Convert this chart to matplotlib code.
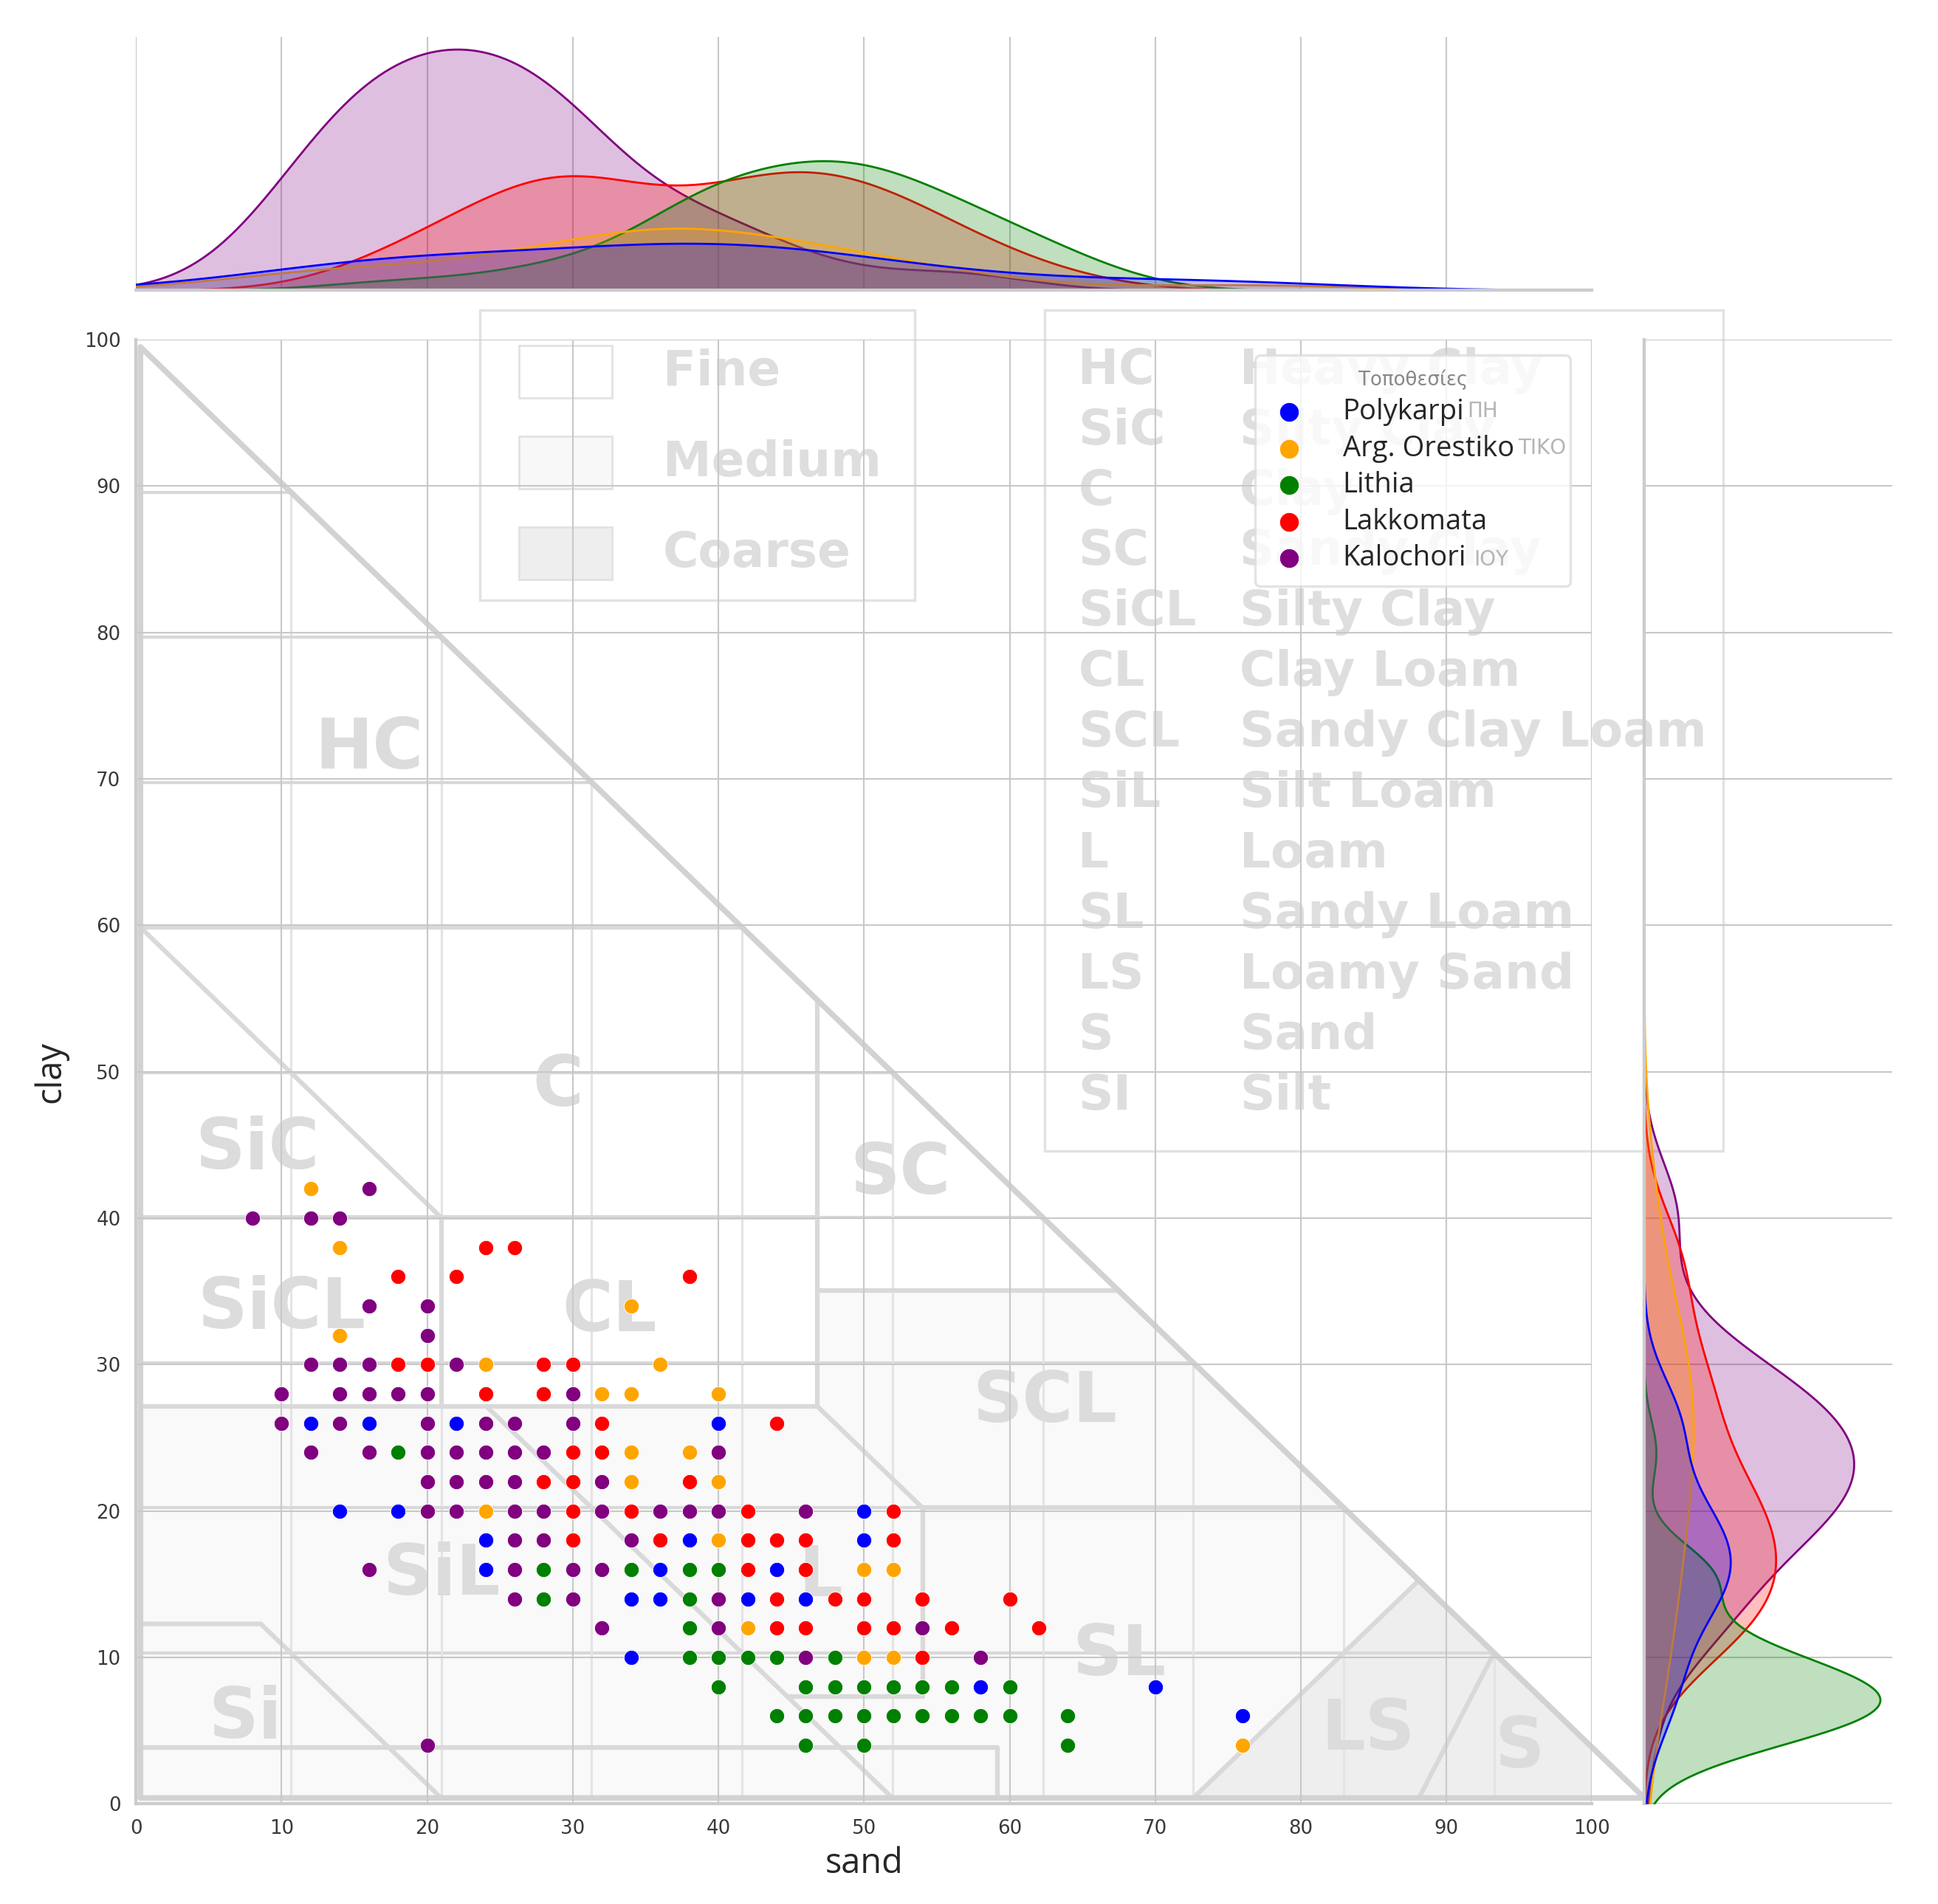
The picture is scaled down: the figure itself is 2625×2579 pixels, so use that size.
import numpy as np
import pandas as pd
import matplotlib
matplotlib.use("Agg")
import matplotlib.pyplot as plt
import seaborn as sns
from matplotlib.patches import Polygon, Rectangle

sns.set_theme(style="whitegrid")
plt.rcParams['font.family'] = ['DejaVu Sans']
plt.rcParams['grid.color'] = '#c8c8c8'
plt.rcParams['grid.linewidth'] = 0.6

# --- data (sand %, clay %) per location ---
locations = ["Polykarpi", "Arg. Orestiko", "Lithia", "Lakkomata", "Kalochori"]
colors = ["blue", "orange", "green", "red", "purple"]

polykarpi_sand = [12, 16, 22, 40, 14, 18, 50, 24, 38, 50, 24, 36, 44, 34, 36, 42, 46, 34, 58, 70, 76]
polykarpi_clay = [26, 26, 26, 26, 20, 20, 20, 18, 18, 18, 16, 16, 16, 14, 14, 14, 14, 10, 8, 8, 6]

orestiko_sand = [12, 14, 34, 14, 24, 36, 32, 34, 40, 34, 38, 34, 40, 24, 40, 50, 52, 42, 50, 52, 76]
orestiko_clay = [42, 38, 34, 32, 30, 30, 28, 28, 28, 24, 24, 22, 22, 20, 18, 16, 16, 12, 10, 10, 4]

lithia_sand = [18, 28, 34, 38, 40, 28, 38, 38, 38, 40, 42, 44, 48, 40, 46, 48, 50, 52, 54, 56, 60,
               44, 46, 48, 50, 52, 54, 56, 58, 60, 64, 46, 50, 64]
lithia_clay = [24, 16, 16, 16, 16, 14, 14, 12, 10, 10, 10, 10, 10, 8, 8, 8, 8, 8, 8, 8, 8,
               6, 6, 6, 6, 6, 6, 6, 6, 6, 6, 4, 4, 4]

lakkomata_sand = [24, 26, 18, 22, 38, 18, 20, 28, 30, 24, 28, 32, 44, 30, 32, 28, 30, 38, 30, 34, 42,
                  52, 30, 36, 42, 44, 46, 52, 42, 46, 44, 48, 50, 54, 60, 44, 46, 50, 52, 56, 62, 54]
lakkomata_clay = [38, 38, 36, 36, 36, 30, 30, 30, 30, 28, 28, 26, 26, 24, 24, 22, 22, 22, 20, 20, 20,
                  20, 18, 18, 18, 18, 18, 18, 16, 16, 14, 14, 14, 14, 14, 12, 12, 12, 12, 12, 12, 10]

kalochori_sand = [16, 8, 12, 14, 16, 20, 20, 12, 14, 16, 22, 10, 14, 16, 18, 20, 30,
                  10, 14, 20, 24, 26, 30, 12, 16, 20, 22, 24, 26, 28, 40,
                  20, 22, 24, 26, 32, 20, 22, 26, 28, 32, 36, 38, 40, 46,
                  26, 28, 34, 16, 26, 30, 32, 26, 30, 40, 32, 40, 54, 46, 58, 20]
kalochori_clay = [42, 40, 40, 40, 34, 34, 32, 30, 30, 30, 30, 28, 28, 28, 28, 28, 28,
                  26, 26, 26, 26, 26, 26, 24, 24, 24, 24, 24, 24, 24, 24,
                  22, 22, 22, 22, 22, 20, 20, 20, 20, 20, 20, 20, 20, 20,
                  18, 18, 18, 16, 16, 16, 16, 14, 14, 14, 12, 12, 12, 10, 10, 4]

all_sand = [polykarpi_sand, orestiko_sand, lithia_sand, lakkomata_sand, kalochori_sand]
all_clay = [polykarpi_clay, orestiko_clay, lithia_clay, lakkomata_clay, kalochori_clay]

hue_col = "Τοποθεσίες"
df = pd.concat([pd.DataFrame({"sand": s, "clay": c, hue_col: name})
                for s, c, name in zip(all_sand, all_clay, locations)], ignore_index=True)

# --- soil texture triangle background (USDA classes, sand/clay of the image) ---
class_lines = [
    [(0, 60), (40, 60)],
    [(0, 60), (20, 40)],
    [(0, 40), (45, 40)],
    [(45, 55), (45, 27)],
    [(45, 35), (65, 35)],
    [(0, 27), (45, 27)],
    [(20, 40), (20, 27)],
    [(45, 27), (52, 20)],
    [(52, 20), (80, 20)],
    [(52, 20), (52, 7), (43, 7)],
    [(23, 27), (50, 0)],
    [(0, 12), (8, 12), (20, 0)],
    [(70, 0), (85, 15)],
    [(85, 0), (90, 10)],
    [(0, 3.5), (57, 3.5), (57, 0)],
]
medium_zone = [(0, 0), (0, 27), (45, 27), (45, 35), (65, 35), (100, 0)]
coarse_zone = [(70, 0), (85, 15), (100, 0)]

class_labels = ["HC", "SiC", "C", "SC", "SiCL", "CL", "SCL", "SiL", "L", "SL", "LS", "S", "Si"]
label_sand = [16, 8.3, 29, 52.5, 10, 32.5, 62.4, 21, 47, 67.5, 84.6, 95, 7.5]
label_clay = [72, 44.7, 49, 43, 33.8, 33.6, 27.4, 15.6, 15.5, 10.1, 5, 3.8, 5.8]

texture_names = ["Fine", "Medium", "Coarse"]
texture_fill = ["white", "#f8f8f8", "#eeeeee"]

abbrev = ["HC", "SiC", "C", "SC", "SiCL", "CL", "SCL", "SiL", "L", "SL", "LS", "S", "SI"]
full_names = ["Heavy Clay", "Silty Clay", "Clay", "Sandy Clay", "Silty Clay", "Clay Loam",
              "Sandy Clay Loam", "Silt Loam", "Loam", "Sandy Loam", "Loamy Sand", "Sand", "Silt"]

# bits of the old Greek legend labels still showing
ghost_labels = ["ΠΗ", "ΤΙΚΟ", "ΙΟΥ"]


def img(pts):
    # the triangle picture is a little stretched against the axes
    p = np.asarray(pts, float)
    return np.column_stack([0.3 + 1.033 * p[:, 0], 0.4 + 0.991 * p[:, 1]])


fig = plt.figure(figsize=(10.5, 10.316), dpi=250)
ax = fig.add_axes([0.0702, 0.0526, 0.7513, 0.7690])
ax_top = fig.add_axes([0.0702, 0.8475, 0.7513, 0.133], sharex=ax)
ax_right = fig.add_axes([0.8482, 0.0526, 0.128, 0.7690], sharey=ax)
ax_top.set_facecolor('none')
ax_right.set_facecolor('none')
ax.set_axisbelow(True)

line_col = '#d9d9d9'
ax.add_patch(Polygon(img(medium_zone), closed=True, fc='#f9f9f9', ec='none', zorder=0.1))
ax.add_patch(Polygon(img(coarse_zone), closed=True, fc='#eeeeee', ec='none', zorder=0.15))

# the picture's own 10% grid, cut at the hypotenuse
for k in range(10, 100, 10):
    g = img([(k, 0), (k, 100 - k)])
    ax.plot(g[:, 0], g[:, 1], color='#e4e4e4', lw=0.9, zorder=0.3)
    g = img([(0, k), (100 - k, k)])
    ax.plot(g[:, 0], g[:, 1], color='#d8d8d8', lw=1.2, zorder=0.3)

for seg in class_lines:
    g = img(seg)
    ax.plot(g[:, 0], g[:, 1], color=line_col, lw=1.8, zorder=0.4, solid_capstyle='round')
tri = img([(0, 0), (0, 100), (100, 0), (0, 0)])
ax.plot(tri[:, 0], tri[:, 1], color='#d2d2d2', lw=2.2, zorder=0.4, clip_on=False)

for name, xs, ys in zip(class_labels, label_sand, label_clay):
    ax.text(xs, ys, name, fontsize=27, fontweight='bold', color='#dcdcdc',
            ha='center', va='center', zorder=0.5)

# texture key box
ax.add_patch(Rectangle((23.6, 82.2), 29.9, 19.8, fc='none', ec='#e2e2e2', lw=1.0,
                       clip_on=False, zorder=0.5))
for i, (name, fc) in enumerate(zip(texture_names, texture_fill)):
    yc = 97.8 - i * 6.2
    ax.add_patch(Rectangle((26.3, yc - 1.8), 6.4, 3.6, fc=fc, ec='#e2e2e2', lw=0.8,
                           clip_on=False, zorder=0.5))
    ax.text(36.2, yc, name, fontsize=19, fontweight='bold', color='#dedede',
            ha='left', va='center', clip_on=False, zorder=0.5)

# class names box
ax.add_patch(Rectangle((62.4, 44.6), 46.6, 57.4, fc='none', ec='#e2e2e2', lw=1.0,
                       clip_on=False, zorder=0.5))
for i, (a, n) in enumerate(zip(abbrev, full_names)):
    yc = 97.9 - i * 4.13
    ax.text(64.7, yc, a, fontsize=19, fontweight='bold', color='#dedede',
            ha='left', va='center', clip_on=False, zorder=0.5)
    ax.text(75.8, yc, n, fontsize=19, fontweight='bold', color='#dedede',
            ha='left', va='center', clip_on=False, zorder=0.5)

# scatter
for name, col in zip(locations, colors):
    sub = df[df[hue_col] == name]
    ax.scatter(sub["sand"], sub["clay"], s=34, color=col, edgecolor='white',
               linewidth=0.25, label=name, zorder=3)

# marginal densities
sns.kdeplot(data=df, x="sand", hue=hue_col, hue_order=locations, palette=colors,
            fill=True, common_norm=True, legend=False, linewidth=0.8, ax=ax_top)
sns.kdeplot(data=df, y="clay", hue=hue_col, hue_order=locations, palette=colors,
            fill=True, common_norm=True, legend=False, linewidth=0.8, ax=ax_right)

ax.set_xlim(0, 100)
ax.set_ylim(0, 100)
ax.set_xticks(np.arange(0, 101, 10))
ax.set_yticks(np.arange(0, 101, 10))
ax.tick_params(labelsize=7.5, labelcolor='#3a3a3a', pad=6, length=0)
ax.set_xlabel("sand", fontsize=13.5, family=['Open Sans', 'DejaVu Sans'], labelpad=3)
ax.set_ylabel("clay", fontsize=13.5, family=['Open Sans', 'DejaVu Sans'], labelpad=6)
for side in ['top', 'right']:
    ax.spines[side].set_visible(False)
for side in ['left', 'bottom']:
    ax.spines[side].set_color('#cccccc')

ax_top.tick_params(labelbottom=False, labelleft=False, length=0)
ax_top.yaxis.grid(False)
ax_top.get_xgridlines()[-1].set_visible(False)
ax_top.set_xlabel("")
ax_top.set_ylabel("")
for side in ['top', 'right', 'left']:
    ax_top.spines[side].set_visible(False)
ax_top.spines['bottom'].set_color('#cccccc')

ax_right.tick_params(labelbottom=False, labelleft=False, length=0)
ax_right.xaxis.grid(False)
ax_right.set_xlabel("")
ax_right.set_ylabel("")
for side in ['top', 'right', 'bottom']:
    ax_right.spines[side].set_visible(False)
ax_right.spines['left'].set_color('#cccccc')

# legend box is wider than its labels (sized for the old Greek names)
leg = ax.legend(title=hue_col, loc='upper left', bbox_to_anchor=(0.759, 0.835, 0.236, 0.164),
                mode='expand', prop={'family': ['Open Sans', 'DejaVu Sans'], 'size': 11},
                title_fontsize=7.5, frameon=True, framealpha=0.8, labelspacing=0.3,
                handlelength=1.4, handletextpad=1.2, borderpad=0.5, markerscale=1.3)
leg.get_title().set_color('#888888')
leg.get_frame().set_edgecolor('#dddddd')
leg.set_zorder(5)

for txt, xa, ya in zip(ghost_labels, [0.914, 0.949, 0.919], [0.951, 0.926, 0.850]):
    ax.text(xa, ya, txt, transform=ax.transAxes, fontsize=8, color='#b5b5b5',
            ha='left', va='center', zorder=6)

fig.savefig("out.png", dpi=250)
